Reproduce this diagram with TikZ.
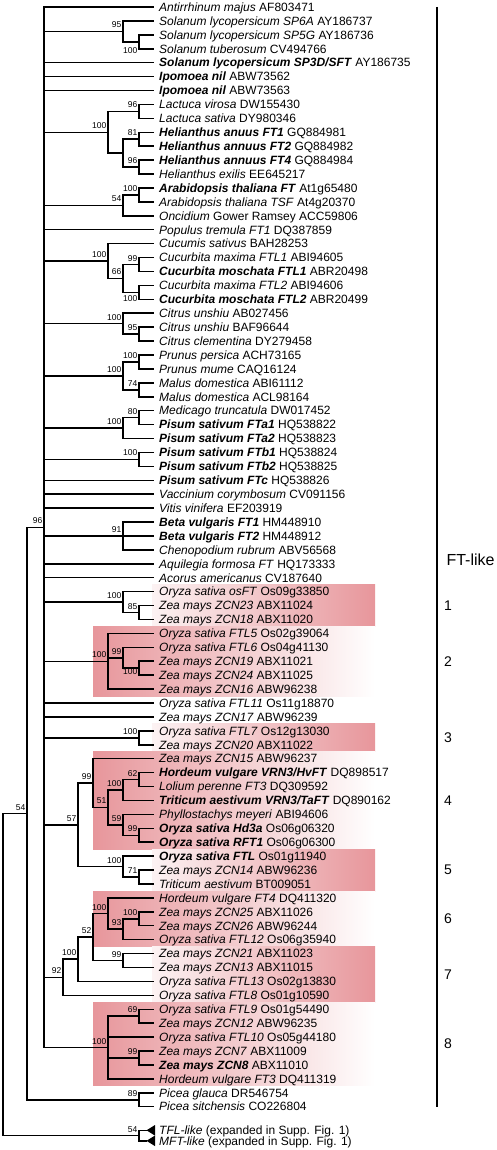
\documentclass[tikz,border=0pt]{standalone}
\usepackage{fontspec}
\setmainfont{Liberation Sans}
\definecolor{pinkbox}{RGB}{231,150,155}
\newcommand\spi[1]{\textit{#1}}
\newcommand\bix[1]{\textbf{\textit{#1}}}
\newcommand\mkleaf[3]{\pgfmathsetmacro\yy{7+(#2-1)*13.92}\node[leaf] (#1) at (154,\yy) {#3};}
\newcommand\kids[2]{\foreach \c in {#2} {\draw[br] (#1) |- (\c);}}
\newcommand\bsa[2]{\node[bslab,anchor=south east] at ([xshift=-1.5pt,yshift=3.3pt]#1) {#2};}
\begin{document}
\begin{tikzpicture}[x=1pt,y=-1pt]
\tikzset{
 br/.style={line width=1.5pt},
 leaf/.style={anchor=west,inner ysep=0pt,inner xsep=5pt,text height=8.6pt,text depth=0pt,font=\fontsize{12}{13}\selectfont},
 bslab/.style={inner sep=0pt,text height=6.1pt,text depth=0pt,font=\fontsize{8.5}{9}\selectfont},
 clnum/.style={inner sep=0pt,font=\fontsize{14}{15}\selectfont},
 lightbox/.style={left color=pinkbox!12!white,right color=pinkbox},
 darkbox/.style={left color=pinkbox,right color=white},
}
\useasboundingbox (0,0) rectangle (496,1150);
% shaded clades
\shade[lightbox] (152,584.6) rectangle (375,626.5);
\shade[darkbox] (93,626.5) rectangle (375,696.1);
\shade[lightbox] (152,723.8) rectangle (375,751.8);
\shade[darkbox] (93,751.8) rectangle (375,849.2);
\shade[lightbox] (152,849.2) rectangle (375,891);
\shade[darkbox] (93,891) rectangle (375,946.6);
\shade[lightbox] (152,946.6) rectangle (375,1002.3);
\shade[darkbox] (93,1002.3) rectangle (375,1085.8);
% leaves
\mkleaf{l1}{1}{\spi{Antirrhinum majus} AF803471}
\mkleaf{l2}{2}{\spi{Solanum lycopersicum SP6A} AY186737}
\mkleaf{l3}{3}{\spi{Solanum lycopersicum SP5G} AY186736}
\mkleaf{l4}{4}{\spi{Solanum tuberosum} CV494766}
\mkleaf{l5}{5}{\bix{Solanum lycopersicum SP3D/SFT} AY186735}
\mkleaf{l6}{6}{\bix{Ipomoea nil} ABW73562}
\mkleaf{l7}{7}{\bix{Ipomoea nil} ABW73563}
\mkleaf{l8}{8}{\spi{Lactuca virosa} DW155430}
\mkleaf{l9}{9}{\spi{Lactuca sativa} DY980346}
\mkleaf{l10}{10}{\bix{Helianthus anuus FT1} GQ884981}
\mkleaf{l11}{11}{\bix{Helianthus annuus FT2} GQ884982}
\mkleaf{l12}{12}{\bix{Helianthus annuus FT4} GQ884984}
\mkleaf{l13}{13}{\spi{Helianthus exilis} EE645217}
\mkleaf{l14}{14}{\bix{Arabidopsis thaliana FT} At1g65480}
\mkleaf{l15}{15}{\spi{Arabidopsis thaliana TSF} At4g20370}
\mkleaf{l16}{16}{\spi{Oncidium} Gower Ramsey ACC59806}
\mkleaf{l17}{17}{\spi{Populus tremula FT1} DQ387859}
\mkleaf{l18}{18}{\spi{Cucumis sativus} BAH28253}
\mkleaf{l19}{19}{\spi{Cucurbita maxima FTL1} ABI94605}
\mkleaf{l20}{20}{\bix{Cucurbita moschata FTL1} ABR20498}
\mkleaf{l21}{21}{\spi{Cucurbita maxima FTL2} ABI94606}
\mkleaf{l22}{22}{\bix{Cucurbita moschata FTL2} ABR20499}
\mkleaf{l23}{23}{\spi{Citrus unshiu} AB027456}
\mkleaf{l24}{24}{\spi{Citrus unshiu} BAF96644}
\mkleaf{l25}{25}{\spi{Citrus clementina} DY279458}
\mkleaf{l26}{26}{\spi{Prunus persica} ACH73165}
\mkleaf{l27}{27}{\spi{Prunus mume} CAQ16124}
\mkleaf{l28}{28}{\spi{Malus domestica} ABI61112}
\mkleaf{l29}{29}{\spi{Malus domestica} ACL98164}
\mkleaf{l30}{30}{\spi{Medicago truncatula} DW017452}
\mkleaf{l31}{31}{\bix{Pisum sativum FTa1} HQ538822}
\mkleaf{l32}{32}{\bix{Pisum sativum FTa2} HQ538823}
\mkleaf{l33}{33}{\bix{Pisum sativum FTb1} HQ538824}
\mkleaf{l34}{34}{\bix{Pisum sativum FTb2} HQ538825}
\mkleaf{l35}{35}{\bix{Pisum sativum FTc} HQ538826}
\mkleaf{l36}{36}{\spi{Vaccinium corymbosum} CV091156}
\mkleaf{l37}{37}{\spi{Vitis vinifera} EF203919}
\mkleaf{l38}{38}{\bix{Beta vulgaris FT1} HM448910}
\mkleaf{l39}{39}{\bix{Beta vulgaris FT2} HM448912}
\mkleaf{l40}{40}{\spi{Chenopodium rubrum} ABV56568}
\mkleaf{l41}{41}{\spi{Aquilegia formosa FT} HQ173333}
\mkleaf{l42}{42}{\spi{Acorus americanus} CV187640}
\mkleaf{l43}{43}{\spi{Oryza sativa osFT} Os09g33850}
\mkleaf{l44}{44}{\spi{Zea mays ZCN23} ABX11024}
\mkleaf{l45}{45}{\spi{Zea mays ZCN18} ABX11020}
\mkleaf{l46}{46}{\spi{Oryza sativa FTL5} Os02g39064}
\mkleaf{l47}{47}{\spi{Oryza sativa FTL6} Os04g41130}
\mkleaf{l48}{48}{\spi{Zea mays ZCN19} ABX11021}
\mkleaf{l49}{49}{\spi{Zea mays ZCN24} ABX11025}
\mkleaf{l50}{50}{\spi{Zea mays ZCN16} ABW96238}
\mkleaf{l51}{51}{\spi{Oryza sativa FTL11} Os11g18870}
\mkleaf{l52}{52}{\spi{Zea mays ZCN17} ABW96239}
\mkleaf{l53}{53}{\spi{Oryza sativa FTL7} Os12g13030}
\mkleaf{l54}{54}{\spi{Zea mays ZCN20} ABX11022}
\mkleaf{l55}{55}{\spi{Zea mays ZCN15} ABW96237}
\mkleaf{l56}{56}{\bix{Hordeum vulgare VRN3/HvFT} DQ898517}
\mkleaf{l57}{57}{\spi{Lolium perenne FT3} DQ309592}
\mkleaf{l58}{58}{\bix{Triticum aestivum VRN3/TaFT} DQ890162}
\mkleaf{l59}{59}{\spi{Phyllostachys meyeri} ABI94606}
\mkleaf{l60}{60}{\bix{Oryza sativa Hd3a} Os06g06320}
\mkleaf{l61}{61}{\bix{Oryza sativa RFT1} Os06g06300}
\mkleaf{l62}{62}{\bix{Oryza sativa FTL} Os01g11940}
\mkleaf{l63}{63}{\spi{Zea mays ZCN14} ABW96236}
\mkleaf{l64}{64}{\spi{Triticum aestivum} BT009051}
\mkleaf{l65}{65}{\spi{Hordeum vulgare FT4} DQ411320}
\mkleaf{l66}{66}{\spi{Zea mays ZCN25} ABX11026}
\mkleaf{l67}{67}{\spi{Zea mays ZCN26} ABW96244}
\mkleaf{l68}{68}{\spi{Oryza sativa FTL12} Os06g35940}
\mkleaf{l69}{69}{\spi{Zea mays ZCN21} ABX11023}
\mkleaf{l70}{70}{\spi{Zea mays ZCN13} ABX11015}
\mkleaf{l71}{71}{\spi{Oryza sativa FTL13} Os02g13830}
\mkleaf{l72}{72}{\spi{Oryza sativa FTL8} Os01g10590}
\mkleaf{l73}{73}{\spi{Oryza sativa FTL9} Os01g54490}
\mkleaf{l74}{74}{\spi{Zea mays ZCN12} ABW96235}
\mkleaf{l75}{75}{\spi{Oryza sativa FTL10} Os05g44180}
\mkleaf{l76}{76}{\spi{Zea mays ZCN7} ABX11009}
\mkleaf{l77}{77}{\bix{Zea mays ZCN8} ABX11010}
\mkleaf{l78}{78}{\spi{Hordeum vulgare FT3} DQ411319}
\mkleaf{l79}{79}{\spi{Picea glauca} DR546754}
\mkleaf{l80}{80}{\spi{Picea sitchensis} CO226804}
% collapsed outgroups
\coordinate (tfla) at (146.5,1130.3);
\coordinate (mfta) at (146.5,1140.8);
\fill (tfla) -- ++(8.5,-5.3) -- ++(0,10.6) -- cycle;
\fill (mfta) -- ++(8.5,-5.3) -- ++(0,10.6) -- cycle;
\node[leaf] (tfl) at (154,1130.3) {\spi{TFL-like} (expanded in Supp. Fig. 1)};
\node[leaf] (mft) at (154,1140.8) {\spi{MFT-like} (expanded in Supp. Fig. 1)};
% internal nodes
\coordinate (P) at (44,527.25);
\coordinate (nseed) at (27,813.5);
\coordinate (root) at (3,974.5);
\coordinate (ntm) at (139,1135.55);
\coordinate (n95) at (123,31.35);
\coordinate (n100a) at (139,41.8);
\coordinate (n100ast) at (108,132.3);
\coordinate (n96L) at (139,111.4);
\coordinate (nh) at (123,153.15);
\coordinate (n81) at (139,139.25);
\coordinate (n96H) at (139,167.05);
\coordinate (n54a) at (123,205.4);
\coordinate (n100ar) at (139,194.95);
\coordinate (n100c) at (108,261.0);
\coordinate (n66) at (123,278.45);
\coordinate (n99c) at (139,264.55);
\coordinate (n100cb) at (139,292.35);
\coordinate (n100ci) at (123,323.7);
\coordinate (n95ci) at (139,334.15);
\coordinate (n100ro) at (123,375.9);
\coordinate (n100pr) at (139,361.95);
\coordinate (n74) at (139,389.8);
\coordinate (n100me) at (123,428.1);
\coordinate (n80) at (139,417.65);
\coordinate (n100fb) at (139,459.4);
\coordinate (n91) at (123,535.95);
\coordinate (n100oa) at (123,602.1);
\coordinate (n85) at (139,612.55);
\coordinate (n100ob) at (108,661.25);
\coordinate (n99ob) at (123,657.75);
\coordinate (n100obb) at (139,668.2);
\coordinate (n100oc) at (139,737.8);
\coordinate (n57) at (78,824.8);
\coordinate (n99od) at (93,783.05);
\coordinate (n51) at (108,807.4);
\coordinate (n100od) at (123,790.0);
\coordinate (n62) at (139,779.55);
\coordinate (n59) at (123,824.8);
\coordinate (n99odb) at (139,835.25);
\coordinate (n100oe) at (123,866.55);
\coordinate (n71) at (139,877.0);
\coordinate (n92) at (63,977.25);
\coordinate (n100og) at (78,959.2);
\coordinate (n52) at (93,937.0);
\coordinate (n100of) at (108,913.5);
\coordinate (n93) at (123,929.2);
\coordinate (n100ofb) at (139,918.75);
\coordinate (n99og) at (123,960.55);
\coordinate (n100oh) at (108,1047.5);
\coordinate (n69) at (139,1016.2);
\coordinate (n99oh) at (139,1057.95);
\coordinate (n89) at (139,1099.75);
% branches
\kids{root}{nseed,ntm}
\kids{ntm}{tfla,mfta}
\kids{nseed}{P,n89}
\kids{n89}{l79.west,l80.west}
\kids{P}{l1.west,n95,l5.west,l6.west,l7.west,n100ast,n54a,l17.west,n100c,n100ci,n100ro,n100me,n100fb,l35.west,l36.west,l37.west,n91,l41.west,l42.west,n100oa,n100ob,l51.west,l52.west,n100oc,n57,n92,n100oh}
\kids{n95}{l2.west,n100a}
\kids{n100a}{l3.west,l4.west}
\kids{n100ast}{n96L,nh}
\kids{n96L}{l8.west,l9.west}
\kids{nh}{n81,n96H}
\kids{n81}{l10.west,l11.west}
\kids{n96H}{l12.west,l13.west}
\kids{n54a}{n100ar,l16.west}
\kids{n100ar}{l14.west,l15.west}
\kids{n100c}{l18.west,n66}
\kids{n66}{n99c,n100cb}
\kids{n99c}{l19.west,l20.west}
\kids{n100cb}{l21.west,l22.west}
\kids{n100ci}{l23.west,n95ci}
\kids{n95ci}{l24.west,l25.west}
\kids{n100ro}{n100pr,n74}
\kids{n100pr}{l26.west,l27.west}
\kids{n74}{l28.west,l29.west}
\kids{n100me}{n80,l32.west}
\kids{n80}{l30.west,l31.west}
\kids{n100fb}{l33.west,l34.west}
\kids{n91}{l38.west,l39.west,l40.west}
\kids{n100oa}{l43.west,n85}
\kids{n85}{l44.west,l45.west}
\kids{n100ob}{l46.west,n99ob,l50.west}
\kids{n99ob}{l47.west,n100obb}
\kids{n100obb}{l48.west,l49.west}
\kids{n100oc}{l53.west,l54.west}
\kids{n57}{n99od,n100oe}
\kids{n99od}{l55.west,n51}
\kids{n51}{n100od,n59}
\kids{n100od}{n62,l58.west}
\kids{n62}{l56.west,l57.west}
\kids{n59}{l59.west,n99odb}
\kids{n99odb}{l60.west,l61.west}
\kids{n100oe}{l62.west,n71}
\kids{n71}{l63.west,l64.west}
\kids{n92}{n100og,l72.west}
\kids{n100og}{n52,l71.west}
\kids{n52}{n100of,n99og}
\kids{n100of}{l65.west,n93}
\kids{n93}{n100ofb,l68.west}
\kids{n100ofb}{l66.west,l67.west}
\kids{n99og}{l69.west,l70.west}
\kids{n100oh}{n69,l75.west,n99oh,l78.west}
\kids{n69}{l73.west,l74.west}
\kids{n99oh}{l76.west,l77.west}
% bootstrap values
\bsa{n95}{95}
\node[bslab,anchor=east] at (137.5,50) {100};
\bsa{n96L}{96}
\bsa{n100ast}{100}
\bsa{n81}{81}
\bsa{n96H}{96}
\bsa{n100ar}{100}
\bsa{n54a}{54}
\bsa{n100c}{100}
\bsa{n99c}{99}
\bsa{n66}{66}
\node[bslab,anchor=east] at (137.5,298) {100};
\bsa{n100ci}{100}
\bsa{n95ci}{95}
\bsa{n100pr}{100}
\bsa{n100ro}{100}
\bsa{n74}{74}
\bsa{n80}{80}
\bsa{n100me}{100}
\bsa{n100fb}{100}
\bsa{P}{96}
\bsa{n91}{91}
\bsa{n100oa}{100}
\bsa{n85}{85}
\bsa{n100ob}{100}
\bsa{n99ob}{99}
\node[bslab,anchor=east] at (137.5,671) {100};
\bsa{n100oc}{100}
\bsa{n99od}{99}
\bsa{n62}{62}
\bsa{n100od}{100}
\bsa{n51}{51}
\bsa{n59}{59}
\bsa{n99odb}{99}
\bsa{n57}{57}
\bsa{n100oe}{100}
\bsa{n71}{71}
\bsa{n100of}{100}
\bsa{n100ofb}{100}
\bsa{n93}{93}
\bsa{n52}{52}
\bsa{n99og}{99}
\bsa{n100og}{100}
\bsa{n92}{92}
\bsa{n69}{69}
\bsa{n100oh}{100}
\bsa{n99oh}{99}
\bsa{n89}{89}
\bsa{nseed}{54}
\bsa{ntm}{54}
% FT-like bracket
\coordinate (fttop) at (437,7);
\coordinate (ftbot) at (437,1107);
\draw[line width=2.6pt] (fttop) -- (ftbot);
\node[inner sep=0pt,font=\fontsize{16}{18}\selectfont] (ftlab) at (470.5,560) {FT-like};
% clade numbers
\node[clnum] (c1) at (448,605.5) {1};
\node[clnum] (c2) at (448,661.3) {2};
\node[clnum] (c3) at (448,737.8) {3};
\node[clnum] (c4) at (448,800.5) {4};
\node[clnum] (c5) at (448,870) {5};
\node[clnum] (c6) at (448,918.8) {6};
\node[clnum] (c7) at (448,974.5) {7};
\node[clnum] (c8) at (448,1044) {8};
\end{tikzpicture}
\end{document}
